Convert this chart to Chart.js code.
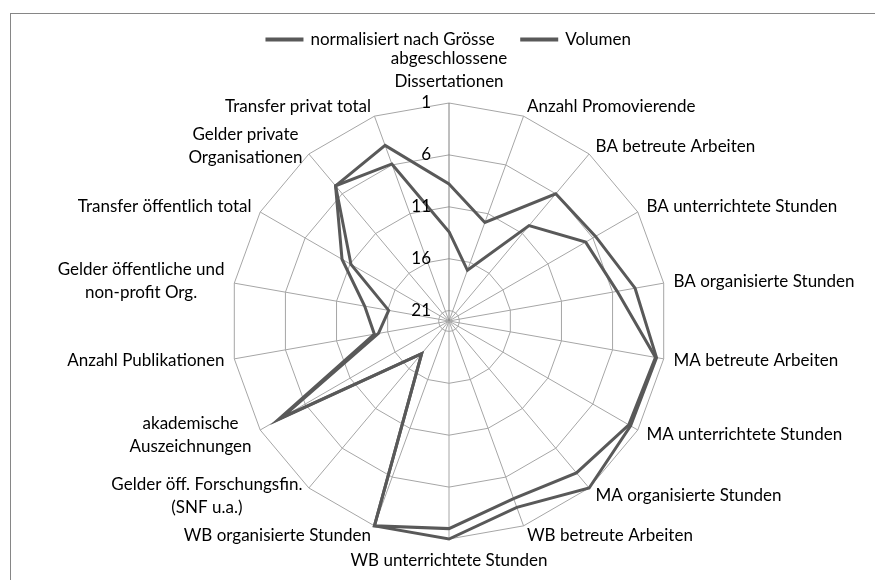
<!DOCTYPE html>
<html>
<head>
<meta charset="utf-8">
<script src="https://cdn.jsdelivr.net/npm/chart.js@4/dist/chart.umd.min.js"></script>
<style>
  html, body { margin: 0; padding: 0; background: #fff; overflow: hidden; }
  #wrap { position: relative; width: 875px; height: 590px; }
</style>
</head>
<body>
<div id="wrap"><canvas id="radarChart"></canvas></div>
<script>
// Kategorien (Uhrzeigersinn ab oben)
const categories = [
  ['abgeschlossene', 'Dissertationen'],
  'Anzahl Promovierende',
  'BA betreute Arbeiten',
  'BA unterrichtete Stunden',
  'BA organisierte Stunden',
  'MA betreute Arbeiten',
  'MA unterrichtete Stunden',
  'MA organisierte Stunden',
  'WB betreute Arbeiten',
  'WB unterrichtete Stunden',
  'WB organisierte Stunden',
  ['Gelder öff. Forschungsfin.', '(SNF u.a.)'],
  ['akademische', 'Auszeichnungen'],
  'Anzahl Publikationen',
  ['Gelder öffentliche und', 'non-profit Org.'],
  'Transfer öffentlich total',
  ['Gelder private', 'Organisationen'],
  'Transfer privat total'
];

// Rangwerte (1 = aussen)
const normalisiert = [8.8, 11.9, 6, 5.7, 3.8, 1.7, 1.8, 1, 2.9, 1, 1, 17.9, 3.0, 14.7, 13.75, 10.1, 5, 4.0];
const volumen = [13.4, 16.8, 10, 6.8, 5.55, 1.8, 2, 2.9, 3.8, 2, 1, 17.9, 3.4, 15.1, 16.1, 11.1, 5, 5.9];

const tickValues = [1, 6, 11, 16, 21];
const scaleMin = 1;
const scaleMax = 22;

const FONT = 'Lato, "Open Sans", sans-serif';
const FONT_SIZE = 17;
const LINE_COLOR = '#595959';
const GRID_COLOR = '#a6a6a6';

// Rahmen, Achsenbeschriftung und Kategorienamen
const excelText = {
  id: 'excelText',
  beforeDraw(chart) {
    const ctx = chart.ctx;
    ctx.save();
    ctx.strokeStyle = '#868686';
    ctx.lineWidth = 1;
    ctx.strokeRect(10.5, 13.5, 900, 620);
    ctx.restore();
  },
  afterDatasetsDraw(chart) {
    const scale = chart.scales.r;
    const ctx = chart.ctx;
    ctx.save();
    ctx.fillStyle = '#000';
    ctx.font = FONT_SIZE + 'px ' + FONT;
    ctx.textBaseline = 'middle';

    // Werteachse
    ctx.textAlign = 'right';
    tickValues.forEach(v => {
      const r = scale.getDistanceFromCenterForValue(v);
      ctx.fillText(String(v), scale.xCenter - 18, scale.yCenter - r);
    });

    // Kategorien
    const lineH = 23;
    ctx.textAlign = 'center';
    categories.forEach((label, i) => {
      const lines = Array.isArray(label) ? label : [label];
      const pos = scale.getPointPosition(i, scale.drawingArea + 10);
      const deg = Math.round(i * 360 / categories.length);
      const w = Math.max(...lines.map(l => ctx.measureText(l).width));
      let cx;
      if (deg === 0 || deg === 180) cx = pos.x;
      else if (deg < 180) cx = pos.x + w / 2;
      else cx = pos.x - w / 2;
      const h = lines.length * lineH;
      let top;
      if (deg === 0) top = pos.y - h;
      else if (deg === 180) top = pos.y;
      else top = pos.y - h / 2;
      lines.forEach((l, k) => {
        ctx.fillText(l, cx, top + lineH * k + lineH / 2);
      });
    });
    ctx.restore();
  }
};

const radarEl = document.getElementById('radarChart');
const radarChart = new Chart(radarEl, {
  type: 'radar',
  data: {
    labels: categories,
    datasets: [{
      label: 'normalisiert nach Grösse',
      data: normalisiert,
      borderColor: LINE_COLOR,
      backgroundColor: LINE_COLOR,
      borderWidth: 3,
      pointRadius: 0,
      fill: false
    }, {
      label: 'Volumen',
      data: volumen,
      borderColor: LINE_COLOR,
      backgroundColor: LINE_COLOR,
      borderWidth: 3,
      pointRadius: 0,
      fill: false
    }]
  },
  options: {
    responsive: true,
    maintainAspectRatio: false,
    animation: false,
    layout: {
      padding: { top: 4, left: 231, right: 208, bottom: 6 }
    },
    plugins: {
      legend: {
        position: 'top',
        labels: {
          color: '#000',
          font: { family: FONT, size: FONT_SIZE },
          boxWidth: 35,
          boxHeight: 1,
          padding: 27
        }
      },
      tooltip: { enabled: false }
    },
    scales: {
      r: {
        min: scaleMin,
        max: scaleMax,
        reverse: true,
        afterBuildTicks(scale) {
          // Mittelpunkt zuerst, damit der aeussere Ring gezeichnet wird
          scale.ticks = [{ value: scaleMax }].concat(tickValues.map(v => ({ value: v })));
        },
        ticks: { display: false },
        pointLabels: { display: false },
        grid: { color: GRID_COLOR, lineWidth: 1 },
        angleLines: {
          color: ctx => ctx.index === 0 ? '#7f7f7f' : GRID_COLOR,
          lineWidth: 1
        }
      }
    }
  },
  plugins: [excelText]
});
</script>
</body>
</html>
